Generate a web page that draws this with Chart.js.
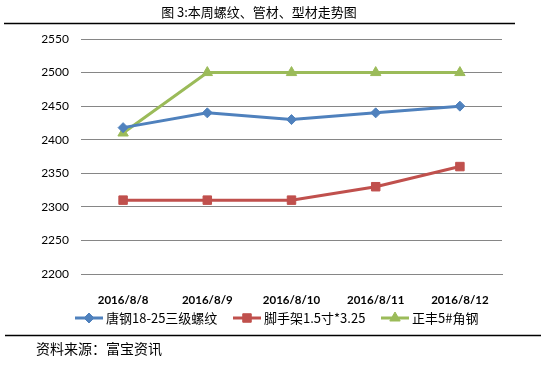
<!DOCTYPE html>
<html>
<head>
<meta charset="utf-8">
<script src="https://cdn.jsdelivr.net/npm/chart.js@4/dist/chart.umd.min.js"></script>
<style>
  html, body { margin: 0; padding: 0; background: #fff; }
  #wrap { position: relative; width: 549px; height: 367px; }
</style>
</head>
<body>
<div id="wrap"><canvas id="myChart" width="549" height="367"></canvas></div>
<script>
const categories = ["2016/8/8", "2016/8/9", "2016/8/10", "2016/8/11", "2016/8/12"];
const seriesNames = ["唐钢18-25三级螺纹", "脚手架1.5寸*3.25", "正丰5#角钢"];
const rebar = [2418, 2440, 2430, 2440, 2450];
const scaffold = [2310, 2310, 2310, 2330, 2360];
const angleSteel = [2410, 2500, 2500, 2500, 2500];
const yMin = 2200, yMax = 2550, yStep = 50;

const colors = ["#4F81BD", "#C0504D", "#9BBB59"];
const styles = ["rectRot", "rect", "triangle"];
const radii = [5, 6, 6];

// title, rules, source and the legend drawn around the chart
const decor = {
    id: "decor",
    afterDraw(chart) {
        const c = chart.ctx;
        c.save();
        c.fillStyle = "#000";
        c.textBaseline = "middle";
        c.textAlign = "center";
        c.font = "13px 'Noto Sans CJK SC'";
        c.fillText("图 3:本周螺纹、管材、型材走势图", 259, 12);
        c.strokeStyle = "#000";
        c.lineWidth = 1.5;
        c.beginPath();
        c.moveTo(4, 23.5); c.lineTo(515, 23.5);
        c.moveTo(5, 335.5); c.lineTo(541, 335.5);
        c.stroke();
        c.textAlign = "left";
        c.font = "14px 'Noto Sans CJK SC'";
        c.fillText("资料来源：富宝资讯", 36, 349);

        // legend: line + marker + label
        const xs = [75, 233, 381];
        const y = 318;
        chart.data.datasets.forEach((ds, i) => {
            const x = xs[i];
            c.strokeStyle = ds.borderColor;
            c.fillStyle = ds.borderColor;
            c.lineWidth = 3;
            c.beginPath();
            c.moveTo(x, y); c.lineTo(x + 28, y);
            c.stroke();
            c.lineWidth = 1;
            Chart.helpers.drawPoint(c, {
                pointStyle: ds.pointStyle, radius: ds.pointRadius, borderWidth: 1
            }, x + 14, y);
            c.fillStyle = "#000";
            c.font = "13px 'Noto Sans CJK SC'";
            c.fillText(ds.label, x + 31, y);
        });
        c.restore();
    }
};

const ctx = document.getElementById("myChart").getContext("2d");
const myChart = new Chart(ctx, {
    type: "line",
    data: {
        labels: categories,
        datasets: [rebar, scaffold, angleSteel].map((d, i) => ({
            label: seriesNames[i],
            data: d,
            borderColor: colors[i],
            backgroundColor: colors[i],
            pointBackgroundColor: colors[i],
            pointBorderColor: colors[i],
            pointStyle: styles[i],
            pointRadius: radii[i],
            pointBorderWidth: 1,
            borderWidth: 3,
            tension: 0,
        })),
    },
    options: {
        responsive: false,
        animation: false,
        layout: { padding: { top: 39, right: 47, bottom: 63, left: 0 } },
        plugins: {
            legend: { display: false },
            title: { display: false },
            tooltip: { enabled: false },
        },
        scales: {
            x: {
                offset: true,
                grid: { display: false },
                border: { display: true, color: "#868686", width: 1 },
                ticks: {
                    padding: 11,
                    color: "#000",
                    font: { family: "Lato", size: 11.5, weight: "bold" },
                    maxRotation: 0,
                },
                afterFit: (s) => { s.height = 30; },
            },
            y: {
                min: yMin,
                max: yMax,
                grid: { color: "#868686", lineWidth: 1, drawTicks: false },
                border: { display: false },
                ticks: {
                    stepSize: yStep,
                    padding: 12,
                    color: "#000",
                    font: { family: "Lato", size: 12 },
                    callback: (v) => String(v),
                },
                afterFit: (s) => { s.width = 81; },
            },
        },
    },
    plugins: [decor],
});
</script>
</body>
</html>
